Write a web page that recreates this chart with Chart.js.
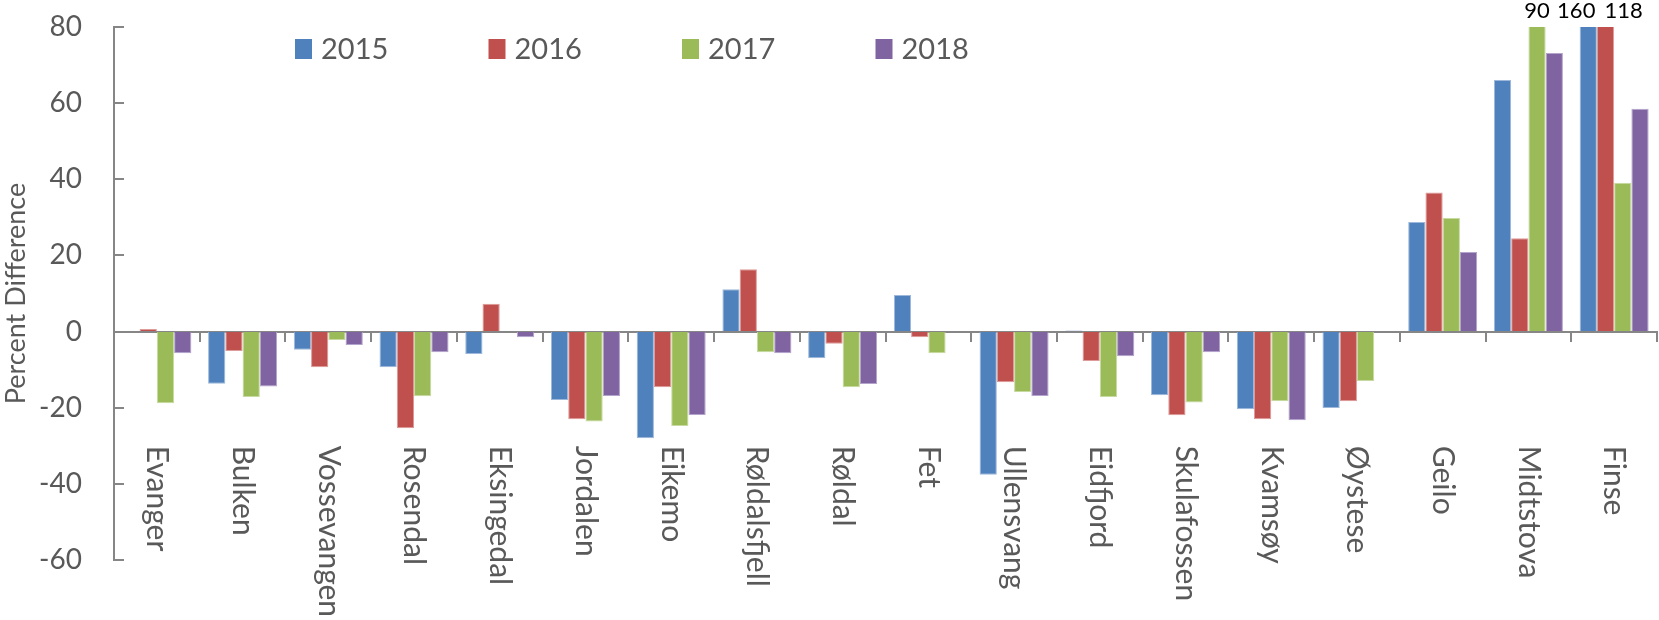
<!DOCTYPE html>
<html>
<head>
<meta charset="utf-8">
<script src="https://cdn.jsdelivr.net/npm/chart.js@4.4.1/dist/chart.umd.min.js"></script>
<style>
    body { margin: 0; background: #fff; }
    #wrap { width: 1659px; height: 620px; position: relative; }
</style>
</head>
<body>
<div id="wrap"><canvas id="diffChart"></canvas></div>
<script>
// stations along the x axis
const stations = ["Evanger", "Bulken", "Vossevangen", "Rosendal", "Eksingedal", "Jordalen",
    "Eikemo", "Røldalsfjell", "Røldal", "Fet", "Ullensvang", "Eidfjord", "Skulafossen",
    "Kvamsøy", "Øystese", "Geilo", "Midtstova", "Finse"];

const years = ["2015", "2016", "2017", "2018"];

// percent difference per year
const diff2015 = [0, -13.7, -4.8, -9.4, -5.9, -18.0, -28.0, 11.1, -7.0, 9.6, -37.6, 0.3, -16.7, -20.4, -20.1, 28.8, 66.1, 160];
const diff2016 = [0.7, -5.1, -9.4, -25.4, 7.3, -23.0, -14.6, 16.4, -3.2, -1.5, -13.3, -7.7, -22.0, -23.0, -18.3, 36.5, 24.5, 118];
const diff2017 = [-18.8, -17.2, -2.2, -17.0, 0, -23.6, -24.8, -5.4, -14.6, -5.7, -15.9, -17.2, -18.6, -18.3, -13.0, 29.8, 90, 39.1];
const diff2018 = [-5.7, -14.4, -3.5, -5.4, -1.5, -16.9, -21.9, -5.7, -13.8, 0, -16.9, -6.5, -5.4, -23.3, 0, 20.9, 73.2, 58.5];

// y axis ticks
const yTicks = [-60, -40, -20, 0, 20, 40, 60, 80];

const fills = ["#4F81BD", "#C0504D", "#9BBB59", "#8064A2"];
const edges = ["#9DB8DA", "#DD9B99", "#C6DAA0", "#B4A3CA"];
const axisGray = "#868686";
const textGray = "#595959";
const font = "Lato";

const series = [diff2015, diff2016, diff2017, diff2018];

// draws rotated station names, inward y ticks, legend and labels for clipped bars
const decorations = {
    id: "decorations",
    afterDatasetsDraw(chart) {
        const { ctx, chartArea } = chart;
        const x = chart.scales.x;
        const y = chart.scales.y;
        ctx.save();

        // inward tick marks on the y axis
        ctx.strokeStyle = axisGray;
        ctx.lineWidth = 2;
        yTicks.forEach((t) => {
            const py = Math.round(y.getPixelForValue(t));
            ctx.beginPath();
            ctx.moveTo(chartArea.left, py);
            ctx.lineTo(chartArea.left + 10, py);
            ctx.stroke();
        });

        // station names, rotated clockwise
        ctx.fillStyle = textGray;
        ctx.font = "30px " + font;
        ctx.textAlign = "left";
        ctx.textBaseline = "middle";
        const labelTop = y.getPixelForValue(-30);
        stations.forEach((name, i) => {
            ctx.save();
            ctx.translate(x.getPixelForValue(i), labelTop);
            ctx.rotate(Math.PI / 2);
            ctx.fillText(name, 0, 0);
            ctx.restore();
        });

        // legend
        ctx.font = "29px " + font;
        years.forEach((yr, i) => {
            const bx = 295 + i * 193.5;
            ctx.fillStyle = fills[i];
            ctx.fillRect(bx, 39, 17, 20);
            ctx.fillStyle = textGray;
            ctx.fillText(yr, bx + 26, 50);
        });

        // values of bars that run past the top, pushed apart when they collide
        ctx.fillStyle = "#000";
        ctx.font = "22px " + font;
        ctx.textAlign = "center";
        ctx.textBaseline = "alphabetic";
        const tags = [];
        series.forEach((data, di) => {
            const meta = chart.getDatasetMeta(di);
            data.forEach((v, i) => {
                if (v > y.max) {
                    const text = String(v);
                    tags.push({ text, cx: meta.data[i].x, w: ctx.measureText(text).width });
                }
            });
        });
        tags.sort((a, b) => a.cx - b.cx);
        for (let k = 1; k < tags.length; k++) {
            const a = tags[k - 1], b = tags[k];
            const need = (a.w + b.w) / 2 + 9;
            if (b.cx - a.cx < need) {
                const mid = (a.cx + b.cx) / 2 + 3;
                a.cx = mid - need / 2;
                b.cx = mid + need / 2;
            }
        }
        tags.forEach((t) => ctx.fillText(t.text, t.cx, chartArea.top - 9));
        ctx.restore();
    }
};

const ctx = document.getElementById("diffChart").getContext("2d");
const diffChart = new Chart(ctx, {
    type: "bar",
    data: {
        labels: stations,
        datasets: series.map((data, i) => ({
            label: years[i],
            data: data,
            backgroundColor: fills[i],
            borderColor: edges[i],
            borderWidth: 1,
            barPercentage: 1.0,
            categoryPercentage: 0.805,
        })),
    },
    plugins: [decorations],
    options: {
        responsive: true,
        maintainAspectRatio: false,
        devicePixelRatio: 1,
        animation: false,
        layout: {
            padding: { top: 27, bottom: 60, right: 2, left: 0 },
        },
        scales: {
            x: {
                position: { y: 0 },
                ticks: { display: false },
                grid: {
                    offset: true,
                    drawOnChartArea: false,
                    drawTicks: true,
                    tickLength: 9,
                    color: axisGray,
                    lineWidth: 2,
                },
                border: { color: axisGray, width: 2 },
            },
            y: {
                min: -60,
                max: 80,
                afterBuildTicks: (scale) => {
                    scale.ticks = yTicks.map((v) => ({ value: v }));
                },
                afterFit: (scale) => {
                    scale.width = 114;
                    scale.paddingTop = 0;
                    scale.paddingBottom = 0;
                },
                ticks: {
                    color: textGray,
                    font: { family: font, size: 28 },
                    padding: 32,
                },
                grid: { drawOnChartArea: false, drawTicks: false },
                border: { color: axisGray, width: 2 },
                title: {
                    display: true,
                    text: "Percent Difference",
                    color: textGray,
                    font: { family: font, size: 27 },
                    padding: { top: 0, bottom: 0 },
                },
            },
        },
        plugins: {
            legend: { display: false },
            tooltip: { enabled: false },
        },
    },
});
</script>
</body>
</html>
